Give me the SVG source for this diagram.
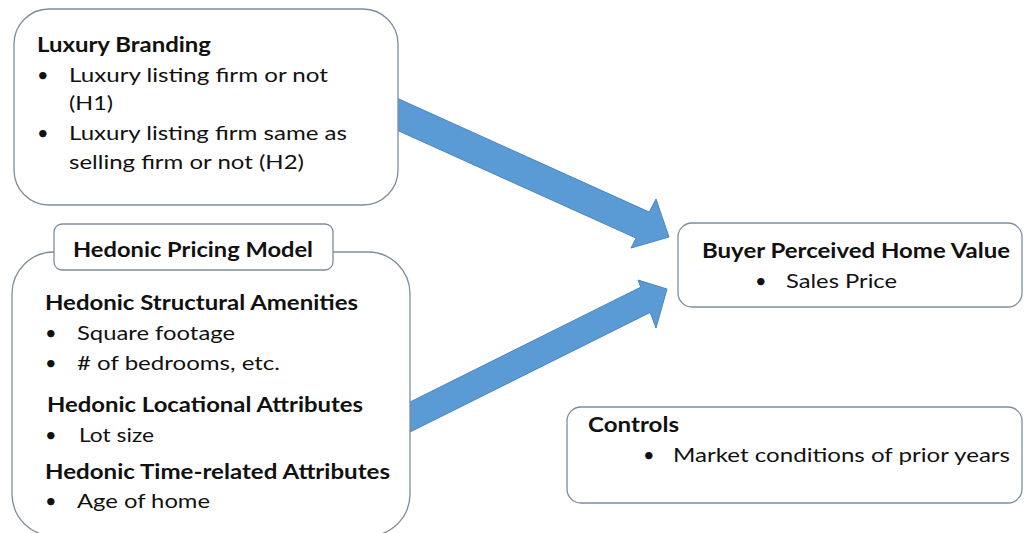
<svg xmlns="http://www.w3.org/2000/svg" width="1024" height="533" viewBox="0 0 1024 533">
<style>
.box{fill:#ffffff;stroke:#7d8d9c;stroke-width:1.3}
.arrow{fill:#5b9bd5;stroke:#4a86bd;stroke-width:1}
text{font-family:Lato,"Liberation Sans",sans-serif;font-size:20px;fill:#111111}
.b{font-weight:bold}
</style>
<rect width="1024" height="533" fill="#ffffff"/>
<g id="connectors">
<polygon class="arrow" points="390,95 649.3,212.1 656,199 669,237 631,248 636.1,238.1 390,127"/>
<polygon class="arrow" points="400,407 640.7,287.2 638,280 667,289 656,328 650.2,312.4 400,437"/>
</g>
<g id="luxury-branding">
<rect class="box" x="14" y="9" width="384" height="196" rx="35"/>
<text class="b" x="37" y="52" textLength="174" lengthAdjust="spacingAndGlyphs">Luxury Branding</text>
<text x="37" y="82">•</text>
<text x="69" y="82" textLength="259" lengthAdjust="spacingAndGlyphs">Luxury listing firm or not</text>
<text x="69" y="110" textLength="44" lengthAdjust="spacingAndGlyphs">(H1)</text>
<text x="37" y="140">•</text>
<text x="69" y="140" textLength="278" lengthAdjust="spacingAndGlyphs">Luxury listing firm same as</text>
<text x="69" y="169" textLength="235" lengthAdjust="spacingAndGlyphs">selling firm or not (H2)</text>
</g>
<g id="hedonic-pricing-model">
<rect class="box" x="12" y="252" width="398" height="284" rx="42"/>
<rect class="box" x="54" y="224" width="279" height="46" rx="8"/>
<text class="b" x="73" y="257" textLength="240" lengthAdjust="spacingAndGlyphs">Hedonic Pricing Model</text>
<text class="b" x="45" y="310" textLength="313" lengthAdjust="spacingAndGlyphs">Hedonic Structural Amenities</text>
<text x="45" y="340">•</text>
<text x="77" y="340" textLength="158" lengthAdjust="spacingAndGlyphs">Square footage</text>
<text x="45" y="370">•</text>
<text x="77" y="370" textLength="203" lengthAdjust="spacingAndGlyphs"># of bedrooms, etc.</text>
<text class="b" x="47" y="412" textLength="316" lengthAdjust="spacingAndGlyphs">Hedonic Locational Attributes</text>
<text x="45" y="442">•</text>
<text x="79" y="442" textLength="75" lengthAdjust="spacingAndGlyphs">Lot size</text>
<text class="b" x="45" y="479" textLength="345" lengthAdjust="spacingAndGlyphs">Hedonic Time-related Attributes</text>
<text x="45" y="508">•</text>
<text x="77" y="508" textLength="133" lengthAdjust="spacingAndGlyphs">Age of home</text>
</g>
<g id="buyer-perceived-home-value">
<rect class="box" x="678" y="223" width="344" height="84" rx="14"/>
<text class="b" x="702" y="258" textLength="308" lengthAdjust="spacingAndGlyphs">Buyer Perceived Home Value</text>
<text x="755" y="288">•</text>
<text x="786" y="288" textLength="111" lengthAdjust="spacingAndGlyphs">Sales Price</text>
</g>
<g id="controls">
<rect class="box" x="567" y="407" width="455" height="96" rx="14"/>
<text class="b" x="588" y="432" textLength="91" lengthAdjust="spacingAndGlyphs">Controls</text>
<text x="643" y="462">•</text>
<text x="673" y="462" textLength="337" lengthAdjust="spacingAndGlyphs">Market conditions of prior years</text>
</g>
</svg>
